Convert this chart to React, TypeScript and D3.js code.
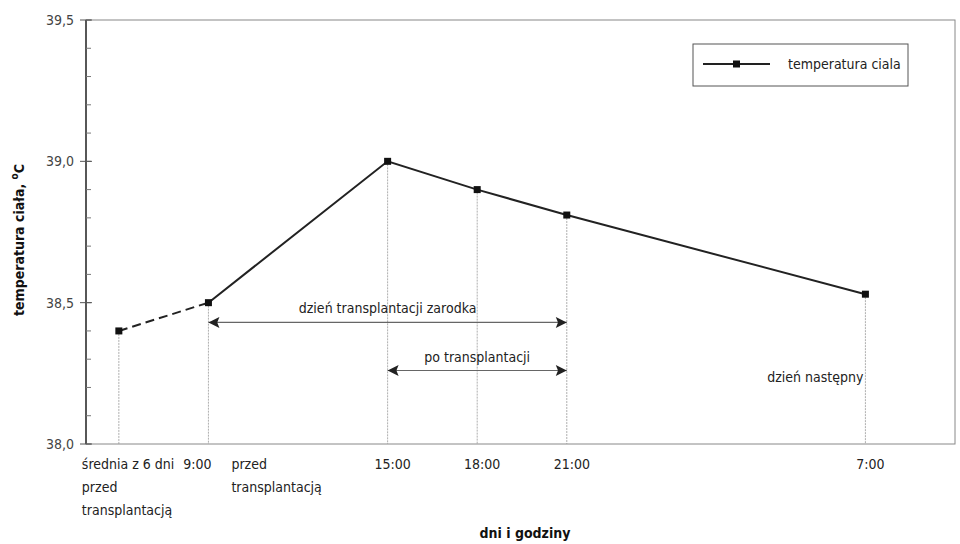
import React, { useEffect, useRef } from 'react';
import * as d3 from 'd3';

// hours counted from midnight of the transplantation day
const labels = ['średnia z 6 dni przed transplantacją', '9:00', '15:00', '18:00', '21:00', '7:00'];
const hours = [6, 9, 15, 18, 21, 31];
const temps = [38.4, 38.5, 39.0, 38.9, 38.81, 38.53];
const yTicks = [38.0, 38.5, 39.0, 39.5];
const seriesName = 'temperatura ciala';

const FONT = '"Liberation Sans Narrow", "DejaVu Sans Condensed", "Roboto Condensed", sans-serif';

const App: React.FC = () => {
  const svgRef = useRef<SVGSVGElement | null>(null);

  useEffect(() => {
    if (!svgRef.current) return;
    const svg = d3.select(svgRef.current);
    svg.selectAll('*').remove();

    const margin = { top: 20, right: 5, bottom: 100, left: 86 };
    const width = 960;
    const height = 544;

    const x = d3.scaleLinear().domain([4.9, 34]).range([margin.left, width - margin.right]);
    const y = d3.scaleLinear().domain([38, 39.5]).range([height - margin.bottom, margin.top]);

    const fmt = (v: number) => d3.format('.1f')(v).replace('.', ',');

    const defs = svg.append('defs');
    defs.append('marker')
      .attr('id', 'head')
      .attr('viewBox', '0 0 10 10')
      .attr('refX', 10).attr('refY', 5)
      .attr('markerWidth', 17).attr('markerHeight', 11)
      .attr('markerUnits', 'userSpaceOnUse')
      .attr('orient', 'auto-start-reverse')
      .append('path')
      .attr('d', 'M0,0 L10,5 L0,10 L2,5 Z')
      .attr('fill', '#222');

    // frame
    svg.append('rect')
      .attr('x', margin.left).attr('y', margin.top)
      .attr('width', width - margin.left - margin.right)
      .attr('height', height - margin.top - margin.bottom)
      .attr('fill', 'none').attr('stroke', '#888').attr('stroke-width', 1);

    // y axis
    const yAxis = svg.append('g').attr('transform', `translate(${margin.left},0)`);
    yAxis.append('line')
      .attr('y1', y(38)).attr('y2', y(39.5))
      .attr('stroke', '#333').attr('stroke-width', 1.5);
    const minor = d3.range(38, 39.5001, 0.1);
    yAxis.selectAll('.minor').data(minor).enter().append('line')
      .attr('x1', 0).attr('x2', 5)
      .attr('y1', d => y(d)).attr('y2', d => y(d))
      .attr('stroke', '#777');
    yAxis.selectAll('.major').data(yTicks).enter().append('line')
      .attr('x1', -6).attr('x2', 6)
      .attr('y1', d => y(d)).attr('y2', d => y(d))
      .attr('stroke', '#555');
    yAxis.selectAll('.lbl').data(yTicks).enter().append('text')
      .attr('x', -12).attr('y', d => y(d) + 5)
      .attr('text-anchor', 'end')
      .attr('font-family', FONT).attr('font-size', 14).attr('fill', '#444')
      .text(d => fmt(d));

    const yt = svg.append('text')
      .attr('transform', `translate(24,${240}) rotate(-90)`)
      .attr('text-anchor', 'middle')
      .attr('font-family', FONT).attr('font-size', 14).attr('font-weight', 'bold').attr('fill', '#111');
    yt.append('tspan').text('temperatura ciała, ');
    yt.append('tspan').attr('font-size', 10).attr('dy', -6).text('o');
    yt.append('tspan').attr('dy', 6).text('C');

    // drop lines
    svg.selectAll('.drop').data(hours).enter().append('line')
      .attr('x1', d => x(d)).attr('x2', d => x(d))
      .attr('y1', (d, i) => y(temps[i])).attr('y2', y(38))
      .attr('stroke', '#999').attr('stroke-width', 0.8).attr('stroke-dasharray', '2,1');

    const pts = hours.map((h, i) => [x(h), y(temps[i])] as [number, number]);
    const line = d3.line();
    svg.append('path')
      .attr('d', line(pts.slice(0, 2)))
      .attr('fill', 'none').attr('stroke', '#222').attr('stroke-width', 2)
      .attr('stroke-dasharray', '9,5');
    svg.append('path')
      .attr('d', line(pts.slice(1)))
      .attr('fill', 'none').attr('stroke', '#222').attr('stroke-width', 2);
    svg.selectAll('.pt').data(pts).enter().append('rect')
      .attr('x', d => d[0] - 3.5).attr('y', d => d[1] - 3.5)
      .attr('width', 7).attr('height', 7).attr('fill', '#111');

    // range arrows
    const arrows = [
      { from: 9, to: 21, yv: 38.43, text: 'dzień transplantacji zarodka' },
      { from: 15, to: 21, yv: 38.26, text: 'po transplantacji' },
    ];
    arrows.forEach(a => {
      svg.append('line')
        .attr('x1', x(a.from)).attr('x2', x(a.to))
        .attr('y1', y(a.yv)).attr('y2', y(a.yv))
        .attr('stroke', '#666').attr('stroke-width', 1.2)
        .attr('marker-start', 'url(#head)').attr('marker-end', 'url(#head)');
      svg.append('text')
        .attr('x', (x(a.from) + x(a.to)) / 2).attr('y', y(a.yv) - 9)
        .attr('text-anchor', 'middle')
        .attr('font-family', FONT).attr('font-size', 14).attr('fill', '#222')
        .text(a.text);
    });

    svg.append('text')
      .attr('x', x(31) - 2).attr('y', y(38.22))
      .attr('text-anchor', 'end')
      .attr('font-family', FONT).attr('font-size', 14).attr('fill', '#222')
      .text('dzień następny');

    // x tick labels
    const base = y(38) + 25;
    const xl = svg.append('g').attr('font-family', FONT).attr('font-size', 14).attr('fill', '#222');
    const first = xl.append('text').attr('x', x(hours[0]) - 37).attr('y', base);
    ['średnia z 6 dni', 'przed', 'transplantacją'].forEach((t, i) =>
      first.append('tspan').attr('x', x(hours[0]) - 37).attr('dy', i === 0 ? 0 : 23).text(t));
    xl.append('text').attr('x', x(hours[1]) + 3).attr('y', base).attr('text-anchor', 'end').text(labels[1]);
    const przed = xl.append('text').attr('x', x(hours[1]) + 23).attr('y', base);
    ['przed', 'transplantacją'].forEach((t, i) =>
      przed.append('tspan').attr('x', x(hours[1]) + 23).attr('dy', i === 0 ? 0 : 23).text(t));
    xl.selectAll('.tl').data(hours.slice(2)).enter().append('text')
      .attr('x', d => x(d) + 5).attr('y', base)
      .attr('text-anchor', 'middle')
      .text((d, i) => labels[i + 2]);

    svg.append('text')
      .attr('x', 525).attr('y', 538)
      .attr('text-anchor', 'middle')
      .attr('font-family', FONT).attr('font-size', 14).attr('font-weight', 'bold').attr('fill', '#111')
      .text('dni i godziny');

    // legend
    const lg = svg.append('g').attr('transform', 'translate(693,44)');
    lg.append('rect').attr('width', 215).attr('height', 42)
      .attr('fill', '#fff').attr('stroke', '#555').attr('stroke-width', 1);
    lg.append('line').attr('x1', 10).attr('x2', 77).attr('y1', 20).attr('y2', 20)
      .attr('stroke', '#222').attr('stroke-width', 2);
    lg.append('rect').attr('x', 40).attr('y', 16.5).attr('width', 7).attr('height', 7).attr('fill', '#111');
    lg.append('text').attr('x', 95).attr('y', 25)
      .attr('font-family', FONT).attr('font-size', 14).attr('fill', '#222')
      .text(seriesName);
  }, []);

  return (
    <svg ref={svgRef} width={960} height={544}
      style={{ position: 'absolute', left: 0, top: 0, background: '#fff' }} />
  );
};

export default App;
